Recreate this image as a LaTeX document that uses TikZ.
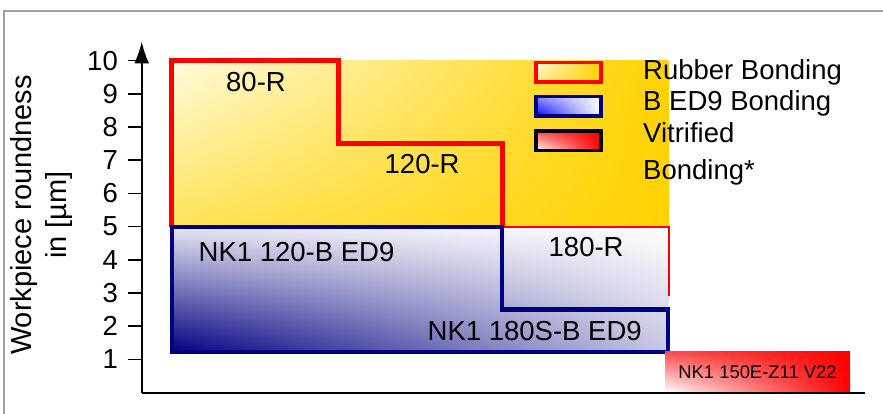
\documentclass[tikz,border=0pt]{standalone}
\usepackage{fontspec}
\setmainfont{Liberation Sans}
\usetikzlibrary{arrows.meta,positioning,shadings}

\definecolor{rubbergold}{RGB}{255,210,0}
\definecolor{rubberlight}{RGB}{255,251,222}
\definecolor{bondnavy}{RGB}{0,0,128}
\definecolor{framegray}{RGB}{160,160,160}

\begin{document}
\begin{tikzpicture}[
  x=1pt, y=-1pt,
  font=\fontsize{27.5}{35}\selectfont,
  lbl/.style={inner sep=0pt, anchor=base west},
  tickline/.style={line width=1.6pt},
  axis/.style={line width=2pt, -{Latex[length=22pt,width=15pt]}},
  rstep/.style={draw=red, line width=4.5pt},
  bstep/.style={draw=bondnavy, line width=4.2pt},
  lbox/.style={minimum width=65pt, minimum height=19.5pt, line width=3.5pt, inner sep=0pt},
  node distance=11.3pt
]
\useasboundingbox (0,0) rectangle (883,414);
\draw[framegray, line width=1.8pt] (4,420) -- (4,11) -- (890,11);

% bonding areas
\shade[upper left=rubberlight, upper right=rubbergold, lower left=rubbergold!60!rubberlight, lower right=rubbergold]
  (171.7,60.7) rectangle (668.3,226.6);
\shade[upper left=bondnavy!10, upper right=white, lower left=bondnavy, lower right=bondnavy!22]
  (171.7,226.6) rectangle (668.3,352);

\draw[rstep] (171.7,226.6) -- (171.7,60.7) -- (338.3,60.7) -- (338.3,143.6) -- (502.3,143.6) -- (502.3,226.6);
\draw[red, line width=2pt] (502.3,226.6) -- (668.5,226.6) -- (668.5,296);
\draw[bstep] (171.7,226.6) -- (502.3,226.6) -- (502.3,309.5) -- (668,309.5) -- (668,352) -- (171.7,352) -- cycle;

\node[minimum width=185pt, minimum height=40.6pt, inner sep=0pt, font=\fontsize{18.4}{20}\selectfont,
  upper left=red!70, lower left=white, upper right=red, lower right=red] (vit) at (757.5,372) {NK1 150E-Z11 V22};

% axes
\coordinate (origin) at (141.7,392.5);
\coordinate (ytop) at (141.7,41.5);
\coordinate (xend) at (865,392.5);
\draw[axis] (origin) -- (ytop);
\draw[line width=2pt] (origin) -- (xend);
\foreach \v in {1,...,10} {
  \node[anchor=east, inner sep=0pt] (tick\v) at (118,{392.5-33.18*\v}) {\v};
  \draw[tickline] (127.7,{392.5-33.18*\v}) -- (141.7,{392.5-33.18*\v});
}
\node[rotate=90, align=center, inner sep=0pt, font=\fontsize{29}{35}\selectfont] (ylab) at (41.5,215) {Workpiece roundness\\in [µm]};

% labels
\node[lbl] (r80) at (226,91.7) {80-R};
\node[lbl] (r120) at (384.5,174) {120-R};
\node[lbl] (b120) at (198.5,261.7) {NK1 120-B ED9};
\node[lbl] (r180) at (548.5,256.7) {180-R};
\node[lbl] (b180) at (427.5,340) {NK1 180S-B ED9};

% legend
\node[lbox, draw=red, upper left=rubberlight, lower left=rubbergold!50!white, upper right=rubbergold, lower right=rubbergold] (lrubber) at (568.3,72.2) {};
\node[lbox, draw=bondnavy, below=of lrubber, upper left=blue!45, lower left=blue, upper right=white, lower right=white] (lbed) {};
\node[lbox, draw=black, below=of lbed, upper left=red!70, lower left=white, upper right=red, lower right=red] (lvit) {};
\node[lbl] (trubber) at (643,80) {Rubber Bonding};
\node[lbl] (tbed) at (643,111) {B ED9 Bonding};
\node[lbl] (tvit) at (643,143) {Vitrified};
\node[lbl] (tvit2) at (643,179.3) {Bonding*};
\end{tikzpicture}
\end{document}
